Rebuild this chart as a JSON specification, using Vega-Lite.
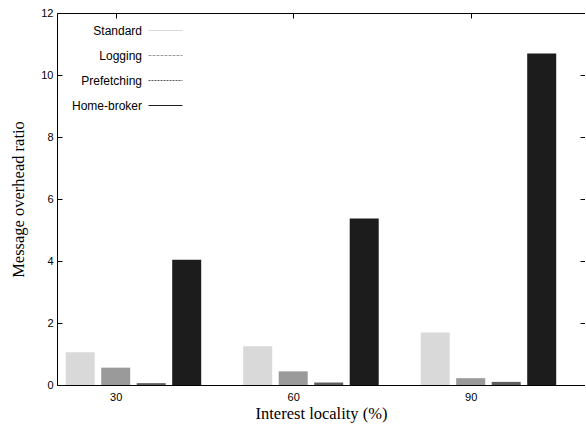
{
  "$schema": "https://vega.github.io/schema/vega-lite/v6.json",
  "autosize": {"type": "none"},
  "padding": {"left": 57, "top": 13, "right": 0, "bottom": 42},
  "width": 528,
  "height": 372,
  "config": {
    "view": {"stroke": "#000000", "strokeWidth": 1},
    "axis": {"labelFont": "Liberation Sans", "labelFontSize": 11, "labelColor": "#000", "titleFont": "Liberation Serif", "titleFontSize": 16.5, "titleFontWeight": "normal", "titleColor": "#000", "tickColor": "#000", "grid": false, "domain": false}
  },
  "data": {
    "values": [
      {"locality": "30", "series": "Standard", "value": 1.06},
      {"locality": "30", "series": "Logging", "value": 0.56},
      {"locality": "30", "series": "Prefetching", "value": 0.06},
      {"locality": "30", "series": "Home-broker", "value": 4.04},
      {"locality": "60", "series": "Standard", "value": 1.25},
      {"locality": "60", "series": "Logging", "value": 0.44},
      {"locality": "60", "series": "Prefetching", "value": 0.08},
      {"locality": "60", "series": "Home-broker", "value": 5.37},
      {"locality": "90", "series": "Standard", "value": 1.69},
      {"locality": "90", "series": "Logging", "value": 0.22},
      {"locality": "90", "series": "Prefetching", "value": 0.10},
      {"locality": "90", "series": "Home-broker", "value": 10.69}
    ]
  },
  "resolve": {"axis": {"x": "independent", "y": "independent"}},
  "layer": [
    {
      "mark": {"type": "bar"},
      "encoding": {
        "x": {
          "field": "locality", "type": "ordinal", "sort": ["30", "60", "90"],
          "scale": {"paddingInner": 0.2366, "paddingOuter": 0.1056, "align": 0.232},
          "axis": {"orient": "bottom", "title": "Interest locality (%)", "labelAngle": 0, "tickSize": -5, "labelPadding": 11, "tickOffset": -17.75, "titlePadding": 3}
        },
        "xOffset": {
          "field": "series", "type": "nominal", "sort": ["Standard", "Logging", "Prefetching", "Home-broker"],
          "scale": {"paddingInner": 0.183, "paddingOuter": 0}
        },
        "y": {
          "field": "value", "type": "quantitative",
          "scale": {"domain": [0, 12], "nice": false},
          "axis": {"orient": "left", "title": "Message overhead ratio", "values": [0, 2, 4, 6, 8, 10, 12], "tickSize": -5, "labelPadding": 9, "titlePadding": 14}
        },
        "color": {
          "field": "series", "type": "nominal", "sort": ["Standard", "Logging", "Prefetching", "Home-broker"],
          "scale": {"domain": ["Standard", "Logging", "Prefetching", "Home-broker"], "range": ["#d9d9d9", "#9a9a9a", "#5e5e5e", "#1c1c1c"]},
          "legend": {
            "orient": "none", "legendX": 91, "legendY": 0, "title": null, "padding": 0,
            "symbolType": "stroke", "symbolSize": 1156, "symbolStrokeWidth": 1,
            "labelAlign": "right", "labelOffset": -41, "labelFont": "Liberation Sans", "labelFontSize": 12, "labelColor": "#000",
            "rowPadding": 1,
            "encode": {"symbols": {"update": {"stroke": {"scale": "color", "field": "value"}, "strokeDash": {"signal": "datum.value === 'Logging' ? [3, 1] : datum.value === 'Prefetching' ? [2, 1] : []"}}}}
          }
        }
      }
    },
    {
      "mark": {"type": "bar", "opacity": 0},
      "encoding": {
        "x": {
          "field": "locality", "type": "ordinal", "sort": ["30", "60", "90"],
          "axis": {"orient": "top", "title": null, "labels": false, "tickSize": -5, "tickOffset": -17.75}
        },
        "xOffset": {"field": "series", "type": "nominal", "sort": ["Standard", "Logging", "Prefetching", "Home-broker"]},
        "y": {
          "field": "value", "type": "quantitative",
          "axis": {"orient": "right", "title": null, "labels": false, "values": [0, 2, 4, 6, 8, 10, 12], "tickSize": -5}
        }
      }
    }
  ]
}
